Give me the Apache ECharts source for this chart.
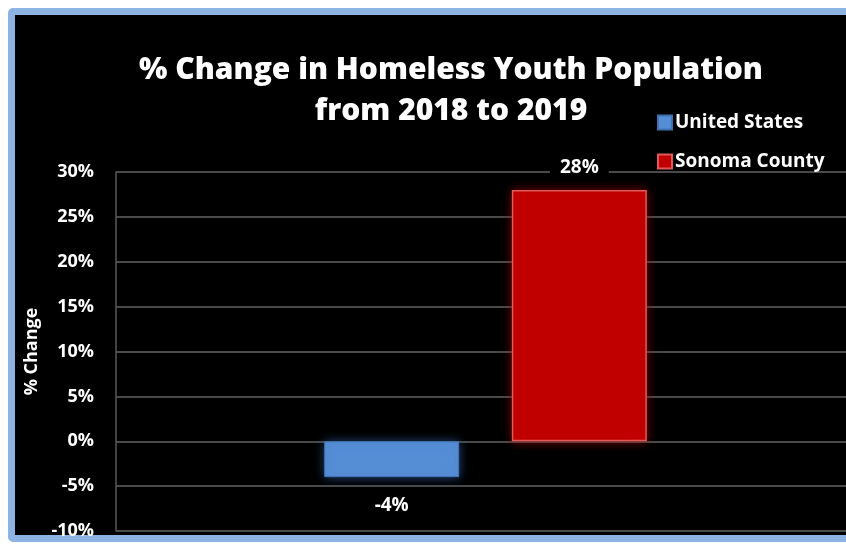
<!DOCTYPE html>
<html>
<head>
<meta charset="utf-8">
<script src="https://cdn.jsdelivr.net/npm/echarts@6/dist/echarts.min.js"></script>
<style>
  html, body { margin: 0; padding: 0; background: #fff; }
  #wrap { position: relative; width: 846px; height: 544px; overflow: hidden; background: #fff; }
  #frame { position: absolute; left: 8px; top: 8px; width: 900px; height: 534px;
           background: #000; border: 7px solid #8db3e2; border-radius: 5px; box-sizing: border-box; }
  #chart { position: absolute; left: 0; top: 0; width: 846px; height: 544px; }
</style>
</head>
<body>
<div id="wrap">
  <div id="frame"></div>
  <div id="chart"></div>
</div>
<script>
const titleText = '% Change in Homeless Youth Population\nfrom 2018 to 2019';
const categories = ['2018 to 2019'];
const seriesNames = ['United States', 'Sonoma County'];
const usValues = [-4];
const sonomaValues = [28];
const yTicks = { min: -10, max: 30, interval: 5 };

const font = '"Open Sans", "Noto Sans", sans-serif';
const chart = echarts.init(document.getElementById('chart'), null, { renderer: 'canvas' });
chart.setOption({
  backgroundColor: 'transparent',
  animation: false,
  title: {
    text: titleText,
    left: 446,
    top: 45,
    textAlign: 'center',
    textStyle: { color: '#fff', fontFamily: font, fontWeight: 800, fontSize: 30, lineHeight: 41 }
  },
  legend: {
    orient: 'vertical',
    left: 652,
    top: 108,
    itemWidth: 14,
    itemHeight: 14,
    itemGap: 20,
    icon: 'rect',
    textStyle: { color: '#fff', fontFamily: font, fontWeight: 'bold', fontSize: 19, padding: [0, 0, 0, -2] },
    data: seriesNames
  },
  grid: { left: 116, top: 172, width: 739, height: 359, containLabel: false, outerBoundsMode: 'none' },
  xAxis: {
    type: 'category',
    data: categories,
    axisLine: { show: false },
    axisTick: { show: false },
    axisLabel: { show: false }
  },
  yAxis: {
    type: 'value',
    min: yTicks.min, max: yTicks.max, interval: yTicks.interval,
    name: '% Change',
    nameLocation: 'middle',
    nameGap: 74,
    nameRotate: 90,
    nameTextStyle: { color: '#fff', fontFamily: font, fontWeight: 'bold', fontSize: 18 },
    axisLine: { show: true, lineStyle: { color: '#595959', width: 1.5 } },
    axisTick: { show: false },
    axisLabel: { color: '#fff', fontFamily: font, fontWeight: 'bold', fontSize: 18, margin: 22,
                 formatter: v => v + '%' },
    splitLine: { lineStyle: { color: '#4a4a4a', width: 2 } }
  },
  series: [
    {
      name: seriesNames[0], type: 'bar', data: usValues,
      barWidth: 135, barGap: '39%',
      itemStyle: { color: '#558ed5', borderColor: '#3f72b0', borderWidth: 1,
                   shadowBlur: 10, shadowColor: 'rgba(60,110,190,0.6)' },
      label: { show: true, position: 'bottom', distance: 19, color: '#fff', fontFamily: font,
               fontWeight: 'bold', fontSize: 19, formatter: p => p.value + '%' }
    },
    {
      name: seriesNames[1], type: 'bar', data: sonomaValues,
      barWidth: 135,
      itemStyle: { color: '#c00000', borderColor: '#e05a5a', borderWidth: 1.5,
                   shadowBlur: 10, shadowColor: 'rgba(200,0,0,0.6)' },
      label: { show: true, position: 'top', distance: 9, color: '#fff', fontFamily: font,
               fontWeight: 'bold', fontSize: 19, backgroundColor: '#000', padding: [4, 10, 4, 10],
               formatter: p => p.value + '%' }
    }
  ]
});
</script>
</body>
</html>
